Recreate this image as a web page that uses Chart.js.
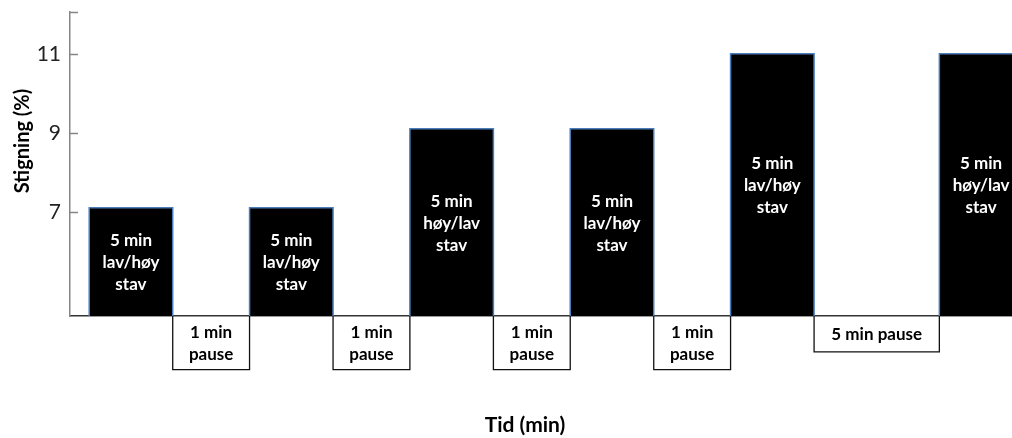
<!DOCTYPE html>
<html>
<head>
<meta charset="utf-8">
<title>Stigning</title>
<script src="https://cdn.jsdelivr.net/npm/chart.js@4.4.0/dist/chart.umd.min.js"></script>
<style>
html,body{margin:0;padding:0;background:#fff;}
#wrap{width:1012px;height:438px;}
</style>
</head>
<body>
<div id="wrap"><canvas id="chart"></canvas></div>
<script>
// intervals from left to right (widths are relative)
var segKind  = ["work","pause","work","pause","work","pause","work","pause","work","pause","work"];
var segWidth = [10, 9.2, 10, 9.2, 10, 9.2, 10, 9.2, 10, 15, 10];
var segLevel = [7.1, 3.0, 7.1, 3.0, 9.1, 3.0, 9.1, 3.0, 11, 3.45, 11];
var segText  = [
  ["5 min","lav/høy","stav"], ["1 min","pause"],
  ["5 min","lav/høy","stav"], ["1 min","pause"],
  ["5 min","høy/lav","stav"], ["1 min","pause"],
  ["5 min","lav/høy","stav"], ["1 min","pause"],
  ["5 min","lav/høy","stav"], ["5 min pause"],
  ["5 min","høy/lav","stav"]
];
var yTicks = [7, 9, 11];
var yMin = 4.36, yMax = 12.06;
var xStart = 2.3, xEnd = 112.8;

var segFrom = [], segTo = [];
var datasets = [];
var pos = xStart;
for (var i = 0; i < segKind.length; i++) {
  var a = pos, b = pos + segWidth[i];
  segFrom.push(a);
  segTo.push(b);
  var pts = [{x:a, y:yMin}, {x:a, y:segLevel[i]}, {x:b, y:segLevel[i]}, {x:b, y:yMin}];
  if (segKind[i] === "work") {
    datasets.push({data:pts, borderColor:"#4a7ebb", borderWidth:1.5, backgroundColor:"#000",
      fill:"start", pointRadius:0, borderJoinStyle:"miter"});
  } else {
    // pause boxes hang below the baseline
    datasets.push({data:pts, borderColor:"#111", borderWidth:1.3, fill:false,
      pointRadius:0, clip:false, borderJoinStyle:"miter"});
  }
  pos = b;
}

// text inside the boxes + inner ticks + axis titles
var boxText = {
  id: "boxText",
  afterDatasetsDraw: function(chart) {
    var ctx = chart.ctx, xs = chart.scales.x, ys = chart.scales.y;
    ctx.save();
    ctx.font = "bold 17px Lato";
    ctx.textAlign = "center";
    ctx.textBaseline = "middle";
    for (var i = 0; i < segKind.length; i++) {
      var cx = xs.getPixelForValue((segFrom[i] + segTo[i]) / 2);
      var cy = (ys.getPixelForValue(yMin) + ys.getPixelForValue(segLevel[i])) / 2;
      ctx.fillStyle = segKind[i] === "work" ? "#fff" : "#000";
      var lines = segText[i];
      for (var j = 0; j < lines.length; j++) {
        ctx.fillText(lines[j], cx, cy + 1 + (j - (lines.length - 1) / 2) * 22);
      }
    }
    ctx.restore();
  },
  afterDraw: function(chart) {
    var ctx = chart.ctx, ys = chart.scales.y, left = chart.chartArea.left;
    ctx.save();
    ctx.strokeStyle = "#868686";
    ctx.lineWidth = 1.5;
    var tickVals = yTicks.concat([yMax]);
    for (var k = 0; k < tickVals.length; k++) {
      var py = Math.round(ys.getPixelForValue(tickVals[k])) + 0.5;
      ctx.beginPath();
      ctx.moveTo(left, py);
      ctx.lineTo(left + 8, py);
      ctx.stroke();
    }
    ctx.fillStyle = "#000";
    ctx.font = "bold 20px Lato";
    ctx.textAlign = "center";
    ctx.textBaseline = "middle";
    ctx.save();
    ctx.translate(23, 141);
    ctx.rotate(-Math.PI / 2);
    ctx.fillText("Stigning (%)", 0, 0);
    ctx.restore();
    ctx.font = "bold 21px Lato";
    ctx.fillText("Tid (min)", 525, 425);
    ctx.restore();
  }
};

var ctx = document.getElementById("chart").getContext("2d");
var chart = new Chart(ctx, {
  type: "line",
  data: { datasets: datasets },
  plugins: [boxText],
  options: {
    responsive: true,
    maintainAspectRatio: false,
    animation: false,
    layout: { padding: { top: 12, right: 0, bottom: 122, left: 0 } },
    plugins: { legend: { display: false }, tooltip: { enabled: false } },
    scales: {
      x: {
        type: "linear",
        min: 0,
        max: xEnd,
        ticks: { display: false },
        grid: { display: false },
        border: { color: "#333", width: 1.5 },
        afterFit: function(s) { s.height = 0; }
      },
      y: {
        min: yMin,
        max: yMax,
        afterBuildTicks: function(s) {
          s.ticks = yTicks.map(function(v) { return { value: v }; });
        },
        ticks: { color: "#222", font: { family: "Lato", size: 21 }, padding: 9 },
        grid: { display: false, drawTicks: false },
        border: { color: "#868686", width: 1.5 },
        afterFit: function(s) {
          s.width = 70;
          s.paddingTop = 0;
          s.paddingBottom = 0;
        }
      }
    }
  }
});
</script>
</body>
</html>
